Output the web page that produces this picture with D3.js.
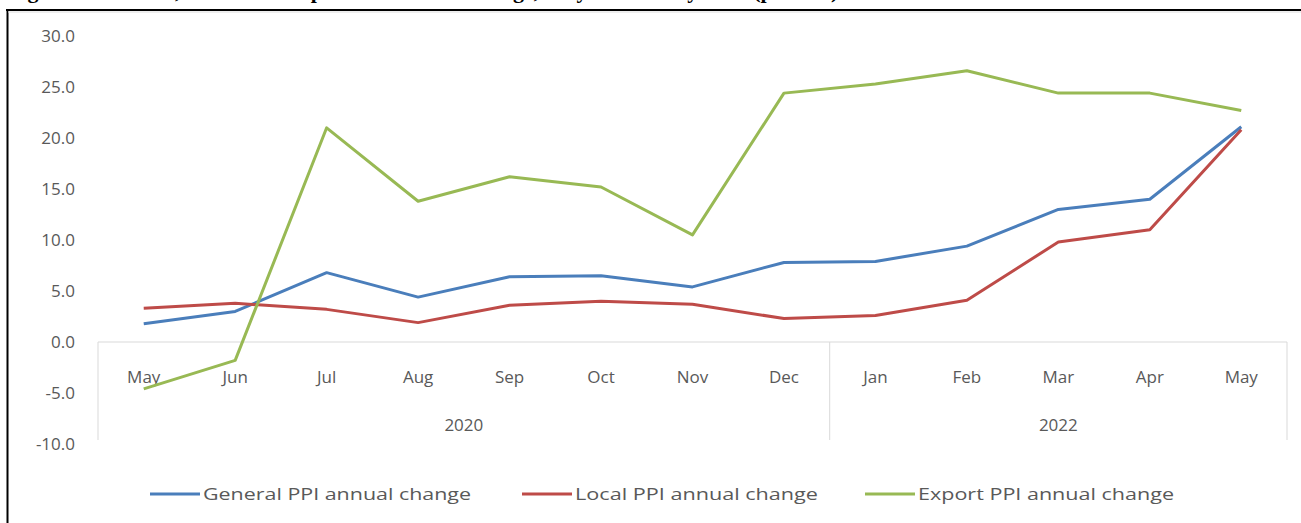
<!DOCTYPE html>
<html lang="en">
<head>
<meta charset="UTF-8" />
<title>PPI annual change</title>
<script src="https://cdn.jsdelivr.net/npm/d3@7"></script>
<style>
  body { margin: 0; background: #fff; font-family: "Open Sans", Arial, sans-serif; }
  svg { display: block; }
</style>
</head>
<body>
<svg id="chart"></svg>
<script>
// Data
const months = ["May", "Jun", "Jul", "Aug", "Sep", "Oct", "Nov", "Dec", "Jan", "Feb", "Mar", "Apr", "May"];
const years = [{label: "2020", from: 0, to: 8}, {label: "2022", from: 8, to: 13}];
const generalPPI = [1.8, 3.0, 6.8, 4.4, 6.4, 6.5, 5.4, 7.8, 7.9, 9.4, 13.0, 14.0, 21.1];
const localPPI = [3.3, 3.8, 3.2, 1.9, 3.6, 4.0, 3.7, 2.3, 2.6, 4.1, 9.8, 11.0, 20.8];
const exportPPI = [-4.6, -1.8, 21.0, 13.8, 16.2, 15.2, 10.5, 24.4, 25.3, 26.6, 24.4, 24.4, 22.7];
const yTicks = [-10, -5, 0, 5, 10, 15, 20, 25, 30];
const seriesNames = ["General PPI annual change", "Local PPI annual change", "Export PPI annual change"];

const W = 1301, H = 523;
const colors = ["#4a7ebb", "#be4b48", "#98b954"];
const textColor = "#595959";

const svg = d3.select("#chart").attr("width", W).attr("height", H);

// caption sits above the crop, only its descenders show
svg.append("text")
  .attr("x", 8).attr("y", -2)
  .attr("font-family", "Liberation Serif, serif")
  .attr("font-weight", "bold")
  .attr("font-size", 22)
  .attr("fill", "#000")
  .text("Figure 2: General, Local and Export PPI annual change, May 2020 - May 2022 (percent)");

// page frame
svg.append("line").attr("x1", 6).attr("x2", W).attr("y1", 10).attr("y2", 10)
  .attr("stroke", "#000").attr("stroke-width", 2);
svg.append("line").attr("x1", 7.5).attr("x2", 7.5).attr("y1", 9).attr("y2", H)
  .attr("stroke", "#000").attr("stroke-width", 2);
svg.append("line").attr("x1", 8).attr("x2", W).attr("y1", 12).attr("y2", 12)
  .attr("stroke", "#ddd").attr("stroke-width", 1);

const plotLeft = 98, plotRight = 1287;

const y = d3.scaleLinear().domain([-10, 30]).range([444, 36]);
const x = d3.scaleBand().domain(d3.range(months.length)).range([plotLeft, plotRight]);
const xc = i => x(i) + x.bandwidth() / 2;

// y axis labels
const yAxis = svg.append("g")
  .attr("transform", `translate(${plotLeft},0)`)
  .call(d3.axisLeft(y).tickValues(yTicks).tickFormat(d => d.toFixed(1)).tickSize(0).tickPadding(23));
yAxis.select(".domain").remove();
yAxis.selectAll("text")
  .attr("font-family", "Open Sans, sans-serif")
  .attr("font-size", 17)
  .attr("fill", textColor);

// zero line
svg.append("line")
  .attr("x1", plotLeft).attr("x2", plotRight)
  .attr("y1", y(0)).attr("y2", y(0))
  .attr("stroke", "#d9d9d9").attr("stroke-width", 1);

// group dividers for multi-level category axis
const dividers = [0, 8, 13];
svg.selectAll(".divider").data(dividers).enter().append("line")
  .attr("class", "divider")
  .attr("x1", d => d === 13 ? plotRight : x(d)).attr("x2", d => d === 13 ? plotRight : x(d))
  .attr("y1", y(0)).attr("y2", 440)
  .attr("stroke", "#d9d9d9").attr("stroke-width", 1);

// month labels
svg.selectAll(".month").data(months).enter().append("text")
  .attr("class", "month")
  .attr("x", (d, i) => xc(i))
  .attr("y", 383)
  .attr("text-anchor", "middle")
  .attr("font-family", "Open Sans, sans-serif")
  .attr("font-size", 17)
  .attr("fill", textColor)
  .text(d => d);

// year labels
svg.selectAll(".year").data(years).enter().append("text")
  .attr("class", "year")
  .attr("x", d => (x(d.from) + (d.to === 13 ? plotRight : x(d.to))) / 2)
  .attr("y", 431)
  .attr("text-anchor", "middle")
  .attr("font-family", "Open Sans, sans-serif")
  .attr("font-size", 17)
  .attr("fill", textColor)
  .text(d => d.label);

// lines
const line = d3.line().x((d, i) => xc(i)).y(d => y(d));
const allSeries = [generalPPI, localPPI, exportPPI];
svg.selectAll(".series").data(allSeries).enter().append("path")
  .attr("class", "series")
  .attr("d", line)
  .attr("fill", "none")
  .attr("stroke", (d, i) => colors[i])
  .attr("stroke-width", 3)
  .attr("stroke-linejoin", "round");

// legend
const legendX = [150, 522, 865];
const legend = svg.selectAll(".legend").data(seriesNames).enter().append("g")
  .attr("class", "legend")
  .attr("transform", (d, i) => `translate(${legendX[i]},494)`);
legend.append("line")
  .attr("x1", 0).attr("x2", 50).attr("y1", 0).attr("y2", 0)
  .attr("stroke", (d, i) => colors[i]).attr("stroke-width", 3);
legend.append("text")
  .attr("x", 53).attr("y", 6)
  .attr("font-family", "Open Sans, sans-serif")
  .attr("font-size", 17)
  .attr("fill", textColor)
  .attr("textLength", (d, i) => [268, 243, 256][i])
  .attr("lengthAdjust", "spacingAndGlyphs")
  .text(d => d);
</script>
</body>
</html>
